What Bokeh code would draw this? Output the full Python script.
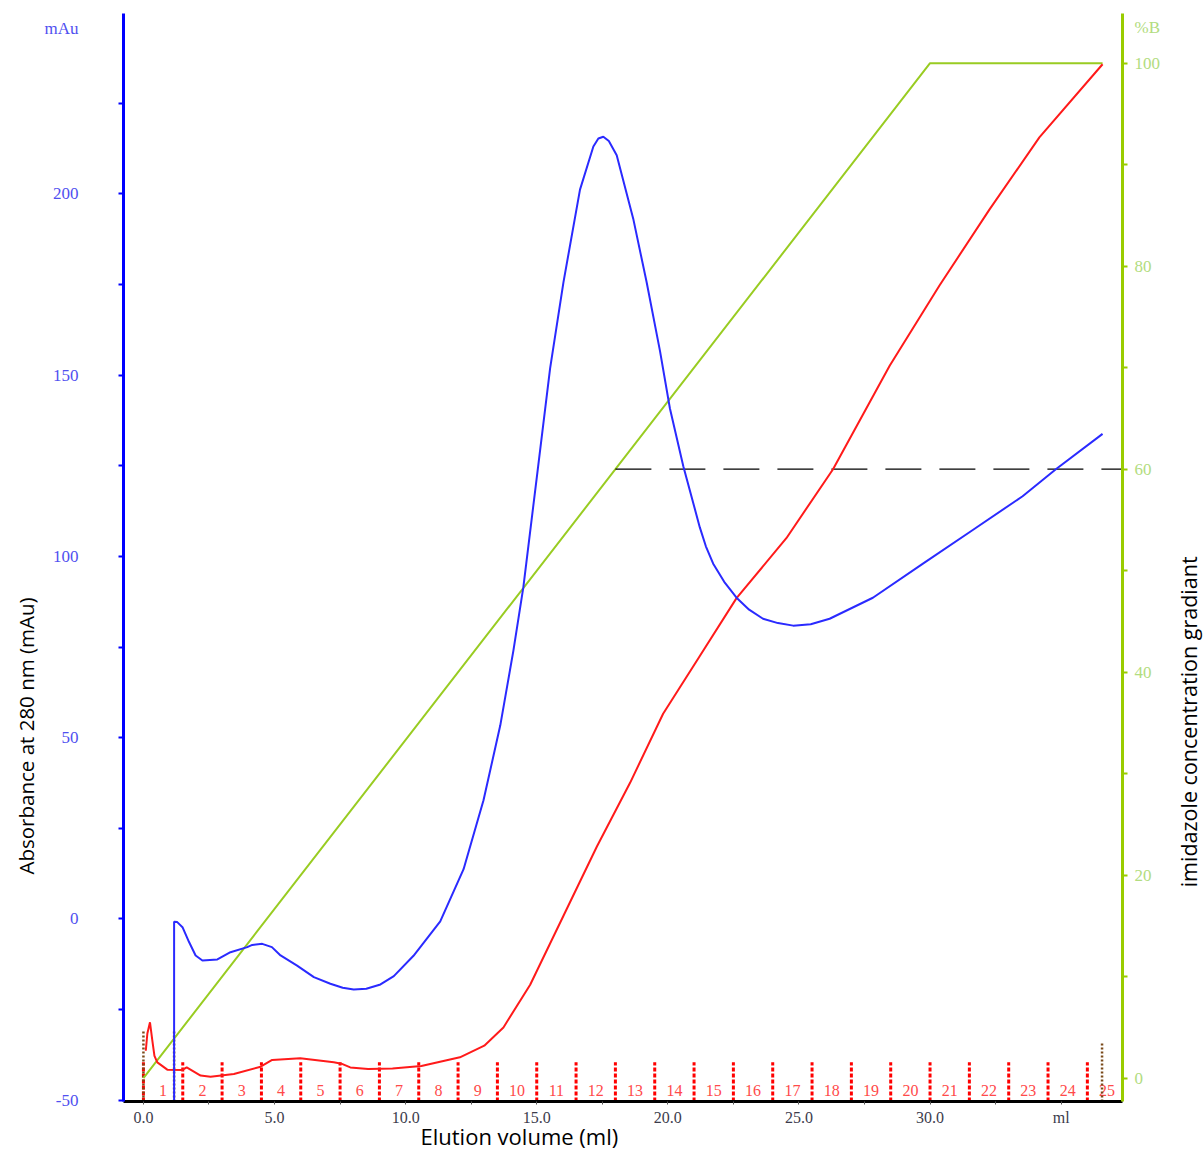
import numpy as np
from bokeh.plotting import figure
from bokeh.models import Range1d, LinearAxis, FixedTicker, Title
from bokeh.embed import file_html
from bokeh.resources import INLINE
from bokeh.core.properties import value

# ---------------- data ----------------
# UV absorbance at 280 nm (mAu) vs elution volume (ml)
uv_ml = [1.17, 1.17, 1.29, 1.49, 1.74, 1.99, 2.25, 2.82, 3.32, 3.96, 4.15, 4.53,
         4.9, 5.23, 5.86, 6.5, 7.13, 7.6, 8.02, 8.5, 9.04, 9.55, 10.3, 11.32,
         12.21, 12.97, 13.61, 14.11, 14.49, 15.0, 15.51, 16.02, 16.65, 17.16,
         17.35, 17.54, 17.75, 18.05, 18.68, 19.19, 19.7, 20.08, 20.59, 21.22,
         21.45, 21.73, 22.15, 22.62, 23.1, 23.63, 24.2, 24.78, 25.45, 26.17,
         27.82, 29.73, 31.63, 33.53, 34.81, 36.58]
uv_mau = [-50.4, -0.8, -0.9, -2.3, -6.4, -10.1, -11.5, -11.2, -9.2, -7.8, -7.2, -6.9,
          -7.8, -10.1, -12.9, -16.1, -17.9, -19.0, -19.5, -19.3, -18.1, -15.8, -10.2, -0.7,
          13.7, 32.7, 53.4, 74.0, 91.5, 121.7, 151.9, 175.7, 201.2, 213.1,
          215.3, 215.8, 214.6, 210.7, 193.2, 175.7, 156.7, 140.8, 124.9, 108.0,
          102.8, 98.0, 93.0, 88.6, 85.3, 82.8, 81.6, 80.9, 81.3, 82.8,
          88.6, 98.0, 107.3, 116.6, 124.1, 133.8]

# second (red) trace, on the %B scale
red_ml = [0.09, 0.15, 0.25, 0.34, 0.42, 0.53, 0.91, 1.49, 1.65, 2.18, 2.56, 3.45,
          4.47, 4.91, 5.98, 7.26, 7.55, 7.89, 8.57, 9.5, 10.6, 12.07, 13.0, 13.73,
          14.75, 16.02, 17.29, 18.56, 19.82, 21.22, 22.62, 24.52, 26.3, 28.46,
          30.36, 32.27, 34.17, 36.58]
red_pb = [2.7, 4.4, 5.5, 3.7, 2.2, 1.56, 0.84, 0.81, 1.06, 0.25, 0.15, 0.41,
          1.13, 1.79, 1.95, 1.56, 1.43, 1.06, 0.9, 0.95, 1.2, 2.05, 3.2, 5.0,
          9.2, 16.0, 22.8, 29.1, 35.9, 41.6, 47.3, 53.2, 60.0, 70.2,
          78.1, 85.6, 92.7, 99.9]

# imidazole gradient (%B)
grad_ml = [0.0, 30.0, 36.58]
grad_pb = [0.0, 100.0, 100.0]

# 60 %B reference line
ref_level = 60.0
ref_start_ml = 18.0

# fractions
frac_edges = [0.0] + [1.5 * k for k in range(1, 25)]
frac_labels = [str(k) for k in range(1, 26)]
frac_centers = [1.5 * k - 0.75 for k in range(1, 26)]

# injection / event marks
event_ml = [0.0, 1.17, 36.56]
event_top = [-30.8, -30.8, -34.1]

# axes ticks and texts
x_major = [0, 5, 10, 15, 20, 25, 30, 35]
x_minor = [2.5, 7.5, 12.5, 17.5, 22.5, 27.5, 32.5]
x_tick_text = ["0.0", "5.0", "10.0", "15.0", "20.0", "25.0", "30.0", "ml"]
uv_major = [-50, 0, 50, 100, 150, 200]
uv_tick_text = ["-50", "0", "50", "100", "150", "200"]
uv_marks = [-50, -25, 0, 25, 50, 75, 100, 125, 150, 175, 200, 225]
pb_major = [0, 20, 40, 60, 80, 100]
pb_marks = [0, 10, 20, 30, 40, 50, 60, 70, 80, 90, 100]
uv_unit, uv_unit_pos = "mAu", 245.6
pb_unit, pb_unit_pos = "%B", 103.5
left_title = "Absorbance at 280 nm (mAu)"
right_title, right_title_pos = "imidazole concentration gradiant", 18.8
bottom_title = "Elution volume (ml)"

# ---------------- figure ----------------
X0, X1 = -0.76, 37.34
Y0, Y1 = -50.4, 249.8
P0, P1 = -2.3, 104.9

p = figure(frame_width=999, frame_height=1088,
           min_border_left=123, min_border_right=82,
           min_border_top=13, min_border_bottom=52,
           x_range=Range1d(X0, X1), y_range=Range1d(Y0, Y1),
           output_backend="svg", toolbar_location=None,
           background_fill_color="white", border_fill_color="white")
p.outline_line_color = None
p.grid.visible = False
p.extra_y_ranges = {"pb": Range1d(P0, P1)}

serif = "Liberation Serif"
sans = "Open Sans"

# x axis
xa = p.xaxis[0]
xa.ticker = FixedTicker(ticks=x_major, minor_ticks=x_minor)
xa.major_label_overrides = {t: s for t, s in zip(x_major, x_tick_text)}
xa.axis_line_color = "black"
xa.axis_line_width = 3
xa.major_tick_in = 0
xa.major_tick_out = 3
xa.minor_tick_in = 0
xa.minor_tick_out = 3
xa.major_tick_line_color = "#555555"
xa.minor_tick_line_color = "#555555"
xa.major_label_standoff = 4
xa.major_label_text_font = serif
xa.major_label_text_font_size = "16px"
xa.major_label_text_color = "#3c3c4c"

# left axis (mAu); tick marks drawn as minor ticks, unit text as a label
ya = p.yaxis[0]
ya.ticker = FixedTicker(ticks=uv_major + [uv_unit_pos], minor_ticks=uv_marks)
ya.major_label_overrides = dict(zip(uv_major + [uv_unit_pos], uv_tick_text + [uv_unit]))
ya.axis_line_color = "#0000ff"
ya.axis_line_width = 3
ya.major_tick_in = 0
ya.major_tick_out = 0
ya.minor_tick_in = 0
ya.minor_tick_out = 5
ya.minor_tick_line_color = "#0000ff"
ya.minor_tick_line_width = 2
ya.major_label_standoff = 40
ya.major_label_text_font = serif
ya.major_label_text_font_size = "17px"
ya.major_label_text_color = "#5050f0"

# right axis (%B)
ra = LinearAxis(y_range_name="pb")
ra.ticker = FixedTicker(ticks=pb_major + [pb_unit_pos], minor_ticks=pb_marks)
ra.major_label_overrides = {pb_unit_pos: pb_unit}
ra.axis_line_color = "#99cc00"
ra.axis_line_width = 3
ra.major_tick_in = 0
ra.major_tick_out = 0
ra.minor_tick_in = 0
ra.minor_tick_out = 5
ra.minor_tick_line_color = "#99cc00"
ra.minor_tick_line_width = 2
ra.major_label_standoff = 7
ra.major_label_text_font = serif
ra.major_label_text_font_size = "17px"
ra.major_label_text_color = "#b2dc80"
p.add_layout(ra, "right")

# right title (rotated text placed on the %B scale)
ta = LinearAxis(y_range_name="pb")
ta.ticker = FixedTicker(ticks=[right_title_pos], minor_ticks=[])
ta.major_label_overrides = {right_title_pos: right_title}
ta.major_label_orientation = np.pi / 2
ta.axis_line_color = None
ta.major_tick_line_color = None
ta.minor_tick_line_color = None
ta.major_tick_in = 0
ta.major_tick_out = 0
ta.minor_tick_in = 0
ta.minor_tick_out = 0
ta.major_label_standoff = 25
ta.major_label_text_font = sans
ta.major_label_text_font_size = "21.5px"
ta.major_label_text_color = "black"
p.add_layout(ta, "right")

# left and bottom titles
p.add_layout(Title(text=left_title, align="left", offset=227, standoff=4,
                   text_font=sans, text_font_size="20.5px", text_font_style="normal",
                   text_color="black"), "left")
p.add_layout(Title(text=bottom_title, align="left", offset=297, standoff=-16,
                   vertical_align="top",
                   text_font=sans, text_font_size="22px", text_font_style="normal",
                   text_color="black"), "below")

# fraction marks
p.segment(x0=frac_edges, y0=[Y0] * len(frac_edges), x1=frac_edges,
          y1=[-39.6] * len(frac_edges), line_color="#ff0000", line_width=3,
          line_dash="4 2")
p.text(x=frac_centers, y=[-47.4] * len(frac_centers), text=frac_labels,
       text_font=value(serif), text_font_size=value("16px"), text_color="#ff4a4a",
       text_align="center", text_baseline="middle")
p.segment(x0=event_ml, y0=[Y0] * len(event_ml), x1=event_ml, y1=event_top,
          line_color="#7a4a1a", line_width=2.5, line_dash="2 2")

# traces
p.line(grad_ml, grad_pb, y_range_name="pb", line_color="#99cc22", line_width=2)
p.segment(x0=[ref_start_ml], y0=[ref_level], x1=[X1], y1=[ref_level],
          y_range_name="pb", line_color="black", line_width=1.3, line_dash="36 18")
p.line(red_ml, red_pb, y_range_name="pb", line_color="#ff1a1a", line_width=2)
p.line(uv_ml, uv_mau, line_color="#2a2aff", line_width=2)

open("out.html", "w").write(file_html(p, INLINE))
